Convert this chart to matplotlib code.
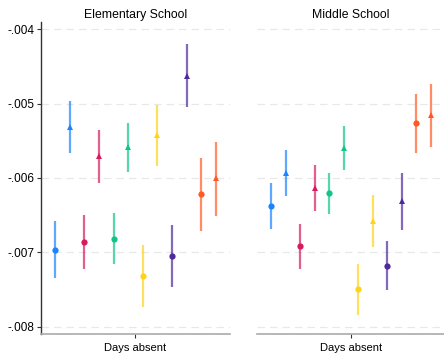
import matplotlib
matplotlib.use("Agg")
import matplotlib.pyplot as plt
from matplotlib.ticker import FuncFormatter
import numpy as np

plt.rcParams["font.family"] = ["Liberation Sans", "DejaVu Sans"]

# Coefficients and 95% CIs, ordered: (color group) x (circle, triangle)
panels = ["Elementary School", "Middle School"]
colors = ["#1a85ff", "#d81b60", "#10c585", "#ffd31a", "#4e2a9e", "#ff5a26"]
markers = ["o", "^"]

elem_est = [-0.006966, -0.005315, -0.006867, -0.005705, -0.006823, -0.005585,
            -0.007320, -0.005427, -0.007055, -0.004624, -0.006221, -0.006001]
elem_lo = [-0.007347, -0.005669, -0.007226, -0.006069, -0.007163, -0.005916,
           -0.007733, -0.005836, -0.007472, -0.005050, -0.006711, -0.006508]
elem_hi = [-0.006584, -0.004961, -0.006503, -0.005351, -0.006473, -0.005261,
           -0.006907, -0.005015, -0.006634, -0.004198, -0.005732, -0.005521]

mid_est = [-0.006374, -0.005934, -0.006921, -0.006136, -0.006207, -0.005598,
           -0.007499, -0.006580, -0.007181, -0.006316, -0.005266, -0.005157]
mid_lo = [-0.006688, -0.006239, -0.007222, -0.006450, -0.006490, -0.005889,
          -0.007845, -0.006930, -0.007509, -0.006697, -0.005669, -0.005579]
mid_hi = [-0.006069, -0.005628, -0.006620, -0.005822, -0.005929, -0.005301,
          -0.007154, -0.006230, -0.006853, -0.005934, -0.004867, -0.004740]

y_ticks = [-0.004, -0.005, -0.006, -0.007, -0.008]
x_label = "Days absent"

fig = plt.figure(figsize=(4.44, 3.56), dpi=100)
ax_l = fig.add_axes([0.0923, 0.0626, 0.4257, 0.8756])
ax_r = fig.add_axes([0.5788, 0.0626, 0.4230, 0.8756])

data = [(elem_est, elem_lo, elem_hi), (mid_est, mid_lo, mid_hi)]
n = len(elem_est)
offsets = np.arange(n) - (n - 1) / 2.0


def fmt(v, pos):
    s = f"{v:.3f}"
    return s.replace("0.", ".")


for ax, title, (est, lo, hi) in zip([ax_l, ax_r], panels, data):
    for yt in y_ticks:
        ax.axhline(yt, color="#e8e8e8", lw=0.9, ls=(0, (6, 4)), zorder=0)
    for i in range(n):
        c = colors[i // 2]
        m = markers[i % 2]
        ax.vlines(offsets[i], lo[i], hi[i], color=c, lw=1.6, alpha=0.7, zorder=2)
        ax.plot(offsets[i], est[i], marker=m, color=c, ms=4.5 if m == "o" else 4.2,
                mew=0, zorder=3)
    ax.set_xlim(-6.47, 6.47)
    ax.set_ylim(-0.008097, -0.003902)
    ax.set_xticks([0])
    ax.set_xticklabels([x_label], fontsize=8)
    ax.tick_params(axis="x", length=3, width=0.8, color="#333333", pad=4)
    ax.set_title(title, fontsize=8.8, pad=3)
    for s in ["top", "right"]:
        ax.spines[s].set_visible(False)
    ax.spines["bottom"].set_color("#aaaaaa")
    ax.spines["bottom"].set_linewidth(1.2)

ax_l.set_yticks(y_ticks)
ax_l.yaxis.set_major_formatter(FuncFormatter(fmt))
ax_l.tick_params(axis="y", length=3, width=0.8, color="#333333", labelsize=8.5, pad=2)
ax_l.spines["left"].set_color("#333333")
ax_l.spines["left"].set_linewidth(1.0)

ax_r.spines["left"].set_visible(False)
ax_r.set_yticks([])

fig.savefig("out.png", dpi=100)
